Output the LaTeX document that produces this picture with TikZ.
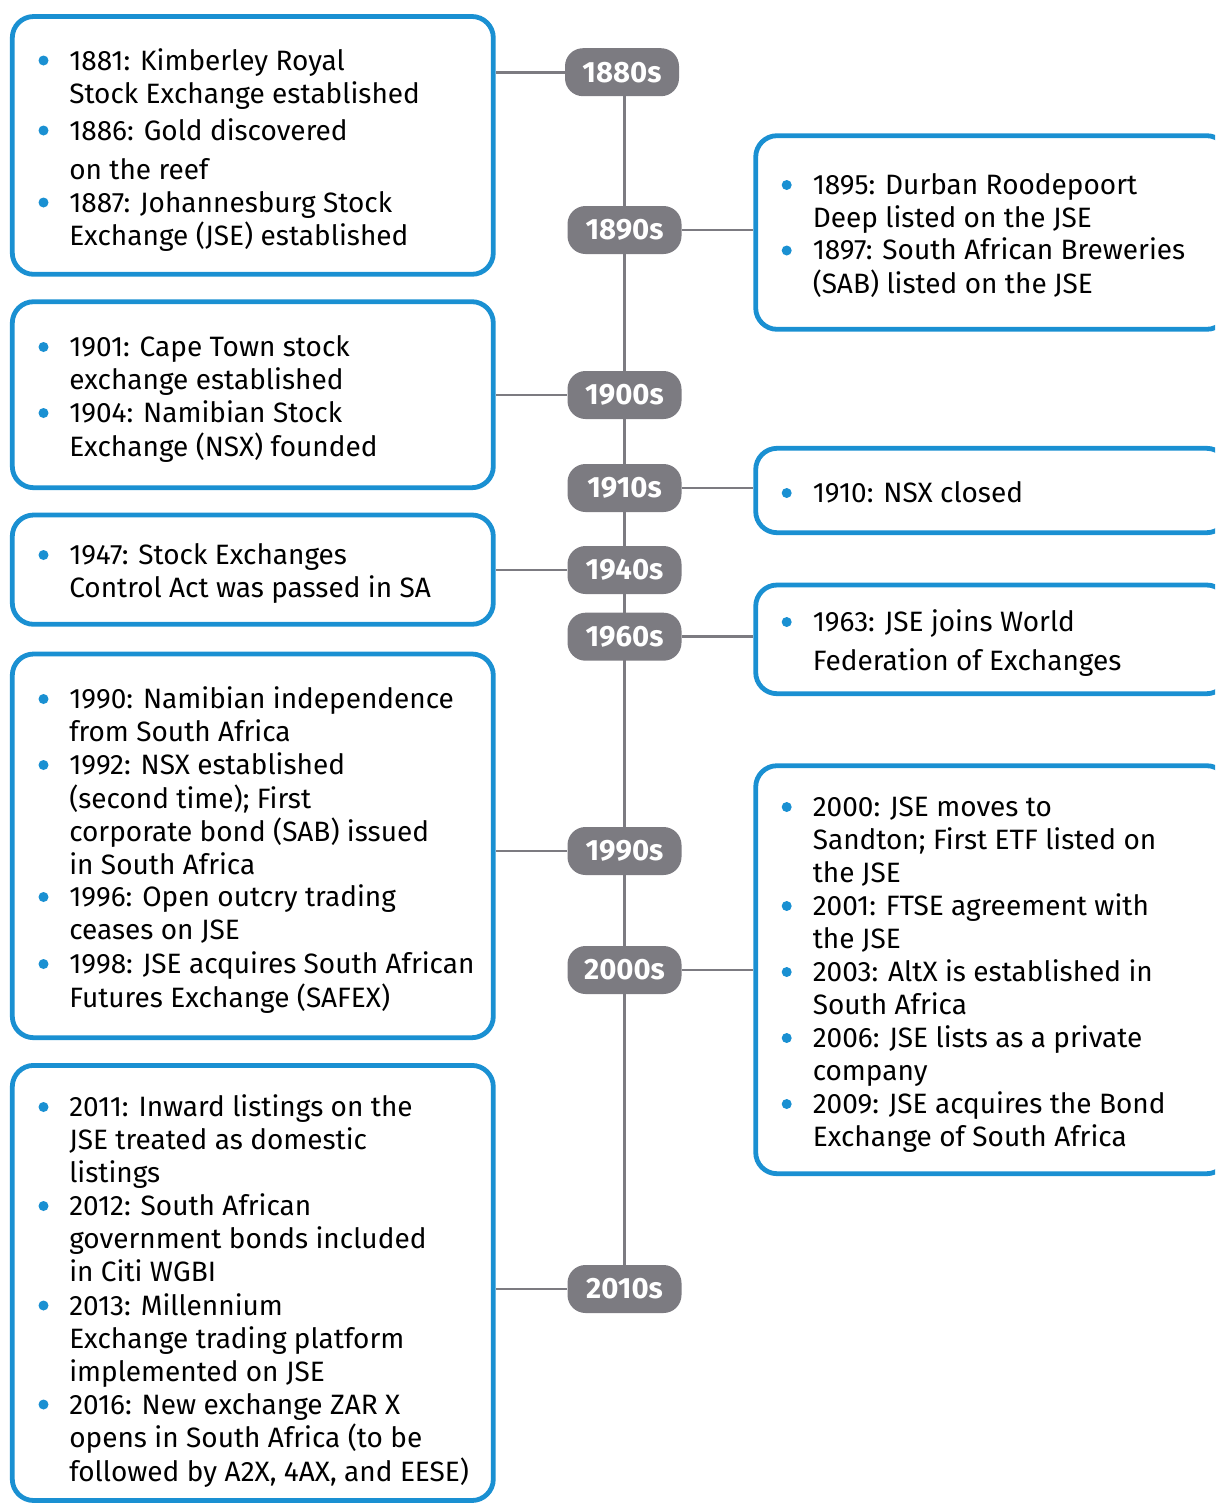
\documentclass[tikz,border=0pt]{standalone}
\usepackage{fontspec}
\setmainfont[Numbers=Proportional]{Fira Sans}
\usetikzlibrary{fit, backgrounds}
\definecolor{jseblue}{HTML}{1A90D2}
\definecolor{pillgray}{HTML}{7C7B81}
\newcommand{\evlines}[1]{\begin{tabular}[t]{@{}l@{}}#1\end{tabular}}
\begin{document}
\begin{tikzpicture}[x=0.75pt, y=-0.75pt,
    evbox/.style={draw=jseblue, line width=3.6pt, rounded corners=16pt, fill=white, inner sep=0pt},
    decade/.style={fill=pillgray, text=white, rounded corners=13.5pt, minimum width=85.5pt, minimum height=36pt, inner sep=0pt, font=\bfseries\fontsize{22}{24}\selectfont},
    evtext/.style={anchor=base west, inner sep=0pt, font=\fontsize{21}{24.75}\selectfont},
    dot/.style={circle, fill=jseblue, inner sep=0pt, minimum size=7.5pt},
    link/.style={draw=pillgray, line width=2.2pt}]
	\useasboundingbox (0,0) rectangle (1215,1503);
	\clip (0,0) rectangle (1215,1503);

	% boxes
	\node[evbox, fit={(12.3,16.5) (493.3,274.3)}]		(b1880) {};
	\node[evbox, fit={(12.3,301.7) (493.3,487.7)}]		(b1900) {};
	\node[evbox, fit={(12.3,515) (493.3,624.3)}]		(b1940) {};
	\node[evbox, fit={(12.3,654) (493.3,1037.7)}]		(b1990) {};
	\node[evbox, fit={(12.3,1065.4) (493.3,1500.5)}]	(b2010) {};
	\node[evbox, fit={(755.7,135.7) (1228,329.3)}]		(b1890) {};
	\node[evbox, fit={(755.7,448.3) (1228,532.7)}]		(b1910) {};
	\node[evbox, fit={(755.7,585) (1228,693.7)}]		(b1960) {};
	\node[evbox, fit={(755.7,765.7) (1228,1173.7)}]		(b2000) {};

	% decades
	\node[decade] (d1880) at (622,72.2) {1880s};
	\node[decade] (d1890) at (624.5,230) {1890s};
	\node[decade] (d1900) at (624.5,395) {1900s};
	\node[decade] (d1910) at (624.5,488) {1910s};
	\node[decade] (d1940) at (624.5,570) {1940s};
	\node[decade] (d1960) at (624.5,636.7) {1960s};
	\node[decade] (d1990) at (624.5,851) {1990s};
	\node[decade] (d2000) at (624.5,970) {2000s};
	\node[decade] (d2010) at (624.5,1289) {2010s};

	\begin{scope}[on background layer]
		\path[link] (d1890 |- d1880) -- (d2010);
		\path[link] (d1880) -- (d1880 -| b1880.east);
		\path[link] (d1890) -- (d1890 -| b1890.west);
		\path[link] (d1900) -- (d1900 -| b1900.east);
		\path[link] (d1910) -- (d1910 -| b1910.west);
		\path[link] (d1940) -- (d1940 -| b1940.east);
		\path[link] (d1960) -- (d1960 -| b1960.west);
		\path[link] (d1990) -- (d1990 -| b1990.east);
		\path[link] (d2000) -- (d2000 -| b2000.west);
		\path[link] (d2010) -- (d2010 -| b2010.east);
	\end{scope}

	% left column
	\node[dot] (m1881) at (43.5,60.5) {};
	\node[evtext] (e1881) at (69,70) {\evlines{1881: Kimberley Royal\\Stock Exchange established}};
	\node[dot] (m1886) at (43.5,130.5) {};
	\node[evtext] (e1886) at (69,140) {\evlines{1886: Gold discovered\\[4.5pt]on the reef}};
	\node[dot] (m1887) at (43.5,202.5) {};
	\node[evtext] (e1887) at (69,212) {\evlines{1887: Johannesburg Stock\\Exchange (JSE) established}};

	\node[dot] (m1901) at (43.5,347) {};
	\node[evtext] (e1901) at (69,356.5) {\evlines{1901: Cape Town stock\\exchange established}};
	\node[dot] (m1904) at (43.5,413) {};
	\node[evtext] (e1904) at (69,422.5) {\evlines{1904: Namibian Stock\\Exchange (NSX) founded}};

	\node[dot] (m1947) at (43.5,555) {};
	\node[evtext] (e1947) at (69,564.5) {\evlines{1947: Stock Exchanges\\Control Act was passed in SA}};

	\node[dot] (m1990) at (43.5,699) {};
	\node[evtext] (e1990) at (69,708.5) {\evlines{1990: Namibian independence\\from South Africa}};
	\node[dot] (m1992) at (43.5,765) {};
	\node[evtext] (e1992) at (69,774.5) {\evlines{1992: NSX established\\(second time); First\\corporate bond (SAB) issued\\in South Africa}};
	\node[dot] (m1996) at (43.5,897) {};
	\node[evtext] (e1996) at (69,906.5) {\evlines{1996: Open outcry trading\\ceases on JSE}};
	\node[dot] (m1998) at (43.5,964) {};
	\node[evtext] (e1998) at (69,973.5) {\evlines{1998: JSE acquires South African\\Futures Exchange (SAFEX)}};

	\node[dot] (m2011) at (43.5,1107) {};
	\node[evtext] (e2011) at (69,1116.5) {\evlines{2011: Inward listings on the\\JSE treated as domestic\\listings}};
	\node[dot] (m2012) at (43.5,1206) {};
	\node[evtext] (e2012) at (69,1215.5) {\evlines{2012: South African\\government bonds included\\in Citi WGBI}};
	\node[dot] (m2013) at (43.5,1305.5) {};
	\node[evtext] (e2013) at (69,1315) {\evlines{2013: Millennium\\Exchange trading platform\\implemented on JSE}};
	\node[dot] (m2016) at (43.5,1404.5) {};
	\node[evtext] (e2016) at (69,1414) {\evlines{2016: New exchange ZAR X\\opens in South Africa (to be\\followed by A2X, 4AX, and EESE)}};

	% right column
	\node[dot] (m1895) at (786.7,185) {};
	\node[evtext] (e1895) at (812.5,194) {\evlines{1895: Durban Roodepoort\\Deep listed on the JSE}};
	\node[dot] (m1897) at (786.7,250.5) {};
	\node[evtext] (e1897) at (812.5,259.5) {\evlines{1897: South African Breweries\\(SAB) listed on the JSE}};

	\node[dot] (m1910) at (786.7,493) {};
	\node[evtext] (e1910) at (812.5,502.5) {1910: NSX closed};

	\node[dot] (m1963) at (786.7,622) {};
	\node[evtext] (e1963) at (812.5,631.5) {\evlines{1963: JSE joins World\\[4.5pt]Federation of Exchanges}};

	\node[dot] (m2000) at (786.7,807) {};
	\node[evtext] (e2000) at (812.5,816.5) {\evlines{2000: JSE moves to\\Sandton; First ETF listed on\\the JSE}};
	\node[dot] (m2001) at (786.7,906) {};
	\node[evtext] (e2001) at (812.5,915.5) {\evlines{2001: FTSE agreement with\\the JSE}};
	\node[dot] (m2003) at (786.7,972) {};
	\node[evtext] (e2003) at (812.5,981.5) {\evlines{2003: AltX is established in\\South Africa}};
	\node[dot] (m2006) at (786.7,1038) {};
	\node[evtext] (e2006) at (812.5,1047.5) {\evlines{2006: JSE lists as a private\\company}};
	\node[dot] (m2009) at (786.7,1104) {};
	\node[evtext] (e2009) at (812.5,1113.5) {\evlines{2009: JSE acquires the Bond\\Exchange of South Africa}};
\end{tikzpicture}
\end{document}
